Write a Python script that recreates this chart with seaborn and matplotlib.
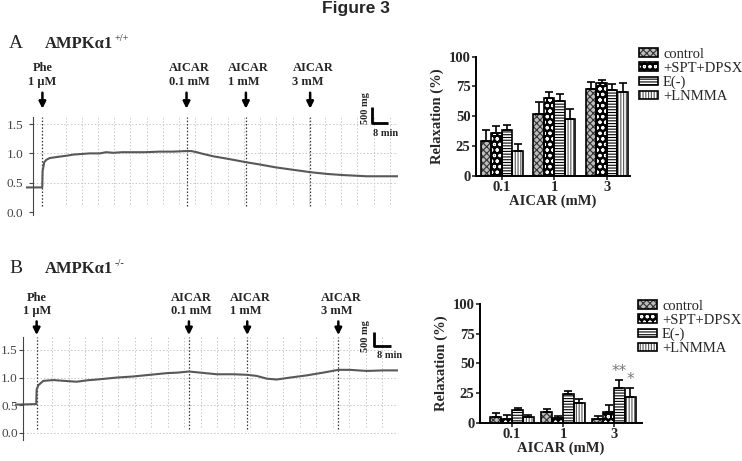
import numpy as np
import pandas as pd
import matplotlib
matplotlib.use('Agg')
import matplotlib.pyplot as plt
import seaborn as sns
from matplotlib.patches import Patch, Rectangle
from matplotlib.lines import Line2D

# isometric tension traces (g), time in min
trace_a_t = [-3.5, 4.5, 4.7, 5.5, 6.5, 8.2, 12, 16.5, 20, 24, 28, 33, 36, 39.5, 44, 49.4, 55,
             62.6, 69, 75.7, 78, 80.7, 84, 88.9, 94, 98.8, 105, 112, 120, 128.4, 136.7,
             144.9, 153.1, 164.6, 172, 180.2]
trace_a_y = [0.42, 0.42, 0.70, 0.85, 0.89, 0.92, 0.94, 0.96, 0.98, 0.99, 1.00, 1.00, 1.02,
             1.01, 1.02, 1.02, 1.02, 1.03, 1.03, 1.04, 1.04, 1.02, 0.99, 0.95, 0.92, 0.89,
             0.85, 0.81, 0.76, 0.72, 0.68, 0.65, 0.63, 0.61, 0.61, 0.61]
trace_b_t = [-4, 6.3, 6.5, 7.3, 9.7, 14.6, 20, 25.9, 31, 37.2, 45.3, 53.4, 61.5, 69.6, 75,
             80.4, 85.8, 93.9, 101.9, 108.7, 113.3, 118.2, 123, 129.5, 137.6, 145.6, 152.9,
             158.6, 166.7, 174.8, 182]
trace_b_y = [0.51, 0.52, 0.78, 0.86, 0.94, 0.955, 0.94, 0.925, 0.95, 0.97, 1.00, 1.02, 1.05,
             1.08, 1.09, 1.11, 1.09, 1.06, 1.06, 1.05, 1.03, 0.98, 0.965, 1.00, 1.04, 1.09,
             1.14, 1.14, 1.12, 1.13, 1.13]

events_a = [4.6, 75.7, 105, 136.7]
events_b = [6.5, 80.4, 108.7, 152.9]
event_labels = ['Phe\n1 \u03bcM', 'AICAR\n0.1 mM', 'AICAR\n1 mM', 'AICAR\n3 mM']

# relaxation (%) bars
doses = ['0.1', '1', '3']
groups = ['control', '+SPT+DPSX', 'E(-)', '+LNMMA']
relax_a = {'control': [29, 52, 73], '+SPT+DPSX': [35.5, 65, 78],
           'E(-)': [38, 63, 72], '+LNMMA': [21, 48, 70]}
err_a = {'control': [9, 10, 5.5], '+SPT+DPSX': [6, 5.5, 2.4],
         'E(-)': [5, 5.3, 5.3], '+LNMMA': [6, 8.4, 7.6]}
relax_b = {'control': [5, 9.3, 2.8], '+SPT+DPSX': [2.8, 3.9, 9],
           'E(-)': [11, 24, 29.5], '+LNMMA': [4.5, 17, 22]}
err_b = {'control': [3, 2, 2.8], '+SPT+DPSX': [3.7, 1.7, 5.6],
         'E(-)': [1, 2.5, 6.5], '+LNMMA': [2, 2.9, 7]}

styles = {'control': ('#bdbdbd', 'xxxxx', '#333333'),
          '+SPT+DPSX': ('black', 'ooo', 'white'),
          'E(-)': ('white', '------', 'black'),
          '+LNMMA': ('white', '||||||', '#555555')}

sns.set_style('white')
plt.rcParams['font.family'] = ['Liberation Serif', 'DejaVu Serif']
plt.rcParams['hatch.linewidth'] = 0.8

W, H = 742, 461
fig = plt.figure(figsize=(W / 100, H / 100), dpi=100)


def fx(x):
    return x / W


def fy(y):
    return 1 - y / H


def trace_panel(rect, t, y, events, ylim, grid_x, grid_bottom, hgrid, arrow_off, text_off, pad):
    ax = fig.add_axes(rect)
    df = pd.DataFrame({'t': t, 'y': y})
    sns.lineplot(data=df, x='t', y='y', ax=ax, color='#585858', lw=1.5)
    ax.set_xlim(t[0], t[-1])
    ax.set_ylim(*ylim)
    for s in ['top', 'right', 'bottom']:
        ax.spines[s].set_visible(False)
    ax.spines['left'].set_position(('data', 0))
    ax.spines['left'].set_color('#444444')
    ax.set_yticks([0, 0.5, 1.0, 1.5])
    ax.set_yticklabels(['0.0', '0.5', '1.0', '1.5'])
    ax.tick_params(axis='y', left=True, length=3, width=0.8, colors='#444444', labelsize=9.5, pad=pad)
    ax.set_xticks([])
    ax.set_xlabel('')
    ax.set_ylabel('')
    ax.vlines(grid_x, grid_bottom, ylim[1], colors='#c8c8c8', lw=0.7, linestyles=(0, (1.5, 2)), zorder=0)
    for h in hgrid:
        ax.plot([0, t[-1]], [h, h], color='#c8c8c8', lw=0.7, ls=(0, (1.5, 2)), zorder=0)
    for e, lab in zip(events, event_labels):
        ax.vlines(e, grid_bottom - 0.03, ylim[1], colors='#333333', lw=0.9, linestyles=(0, (1.2, 1.5)), zorder=1)
        ax.annotate('', xy=(e, 1), xycoords=('data', 'axes fraction'),
                    xytext=(0, arrow_off[1]), textcoords='offset points',
                    arrowprops=dict(arrowstyle='-|>', color='black', lw=1.8, mutation_scale=10,
                                    shrinkA=0, shrinkB=arrow_off[0]),
                    annotation_clip=False)
        ma = 'center' if lab.startswith('Phe') else 'left'
        dx = 0 if lab.startswith('Phe') else 2
        ax.annotate(lab, xy=(e, 1), xycoords=('data', 'axes fraction'),
                    xytext=(dx, text_off), textcoords='offset points',
                    ha='center', va='bottom', multialignment=ma, fontsize=9,
                    fontweight='bold', linespacing=1.15, annotation_clip=False)
    return ax


trace_panel([fx(26), fy(215), fx(398.3) - fx(26), (215 - 117) / H],
            trace_a_t, trace_a_y, events_a, (-0.05, 1.62),
            np.arange(16, 180, 8.0), 0.136, [0.5, 1.0, 1.5], (-6, 17.5), 21, 4)
trace_panel([fx(15), fy(440), fx(398.3) - fx(15), (440 - 336.7) / H],
            trace_b_t, trace_b_y, events_b, (-0.13, 1.74),
            np.arange(14.1, 183, 8.0), 0.1, [0.0, 0.5, 1.0, 1.5], (-1.2, 11), 14, 1)


def bar_panel(rect, vals, errs, xlim, width, stars=False):
    ax = fig.add_axes(rect)
    rows = []
    for g in groups:
        for d, v in zip(doses, vals[g]):
            rows.append({'dose': d, 'group': g, 'value': v})
    df = pd.DataFrame(rows)
    sns.barplot(data=df, x='dose', y='value', hue='group', hue_order=groups, order=doses,
                width=width, errorbar=None, ax=ax, legend=False, dodge=True)
    for cont, g in zip(ax.containers, groups):
        face, hatch, hc = styles[g]
        xs, ys = [], []
        for bar in cont:
            bar.set_facecolor(face)
            bar.set_hatch(hatch)
            bar.set_edgecolor(hc)
            bar.set_linewidth(0)
            ax.add_patch(Rectangle(bar.get_xy(), bar.get_width(), bar.get_height(),
                                   fill=False, edgecolor='black', lw=1.2, zorder=3))
            xs.append(bar.get_x() + bar.get_width() / 2)
            ys.append(bar.get_height())
        e = np.array(errs[g])
        ax.errorbar(xs, ys, yerr=[np.zeros_like(e), e], fmt='none', ecolor='black',
                    elinewidth=1.2, capsize=3.2, capthick=1.2, zorder=4)
        if stars and g in ('E(-)', '+LNMMA'):
            txt = '**' if g == 'E(-)' else '*'
            ax.annotate(txt, xy=(xs[2], ys[2] + e[2]), xytext=(0, 1), textcoords='offset points',
                        ha='center', va='bottom', fontsize=11, color='#777777',
                        family=['DejaVu Sans'])
    ax.set_ylim(0, 100)
    ax.set_xlim(*xlim)
    ax.set_yticks([0, 25, 50, 75, 100])
    sns.despine(ax=ax)
    for s in ['left', 'bottom']:
        ax.spines[s].set_linewidth(1.4)
        ax.spines[s].set_color('black')
    ax.tick_params(axis='both', length=3, width=1.2, direction='out', left=True, bottom=True,
                   labelsize=10.5, pad=1)
    for lab in ax.get_xticklabels() + ax.get_yticklabels():
        lab.set_fontweight('bold')
    ax.set_xlabel('AICAR (mM)', fontsize=10.5, fontweight='bold', labelpad=0)
    ax.set_ylabel('Relaxation (%)', fontsize=10.5, fontweight='bold', labelpad=3)
    return ax


def legend_for(ax, anchor):
    handles = []
    for g in groups:
        face, hatch, hc = styles[g]
        handles.append((Patch(facecolor=face, hatch=hatch, edgecolor=hc, lw=0),
                         Patch(fill=False, edgecolor='black', lw=1.2)))
    ax.legend(handles, groups, loc='upper left', bbox_to_anchor=anchor,
              bbox_transform=fig.transFigure, frameon=False, fontsize=10.5,
              handlelength=1.3, handleheight=0.55, handletextpad=0.35,
              labelspacing=0.06, borderpad=0, borderaxespad=0)


ax_a = bar_panel([fx(476), fy(175.7), fx(630) - fx(476), 119 / H], relax_a, err_a,
                 (-0.49, 2.44), 0.8)
legend_for(ax_a, (fx(639), fy(48)))
ax_b = bar_panel([fx(480), fy(422.7), fx(642) - fx(480), 118.7 / H], relax_b, err_b,
                 (-0.63, 2.55), 0.85, stars=True)
legend_for(ax_b, (fx(638), fy(300)))

# titles and panel labels
fig.text(fx(356), fy(13), 'Figure 3', ha='center', va='baseline', fontsize=12.5,
         fontweight='bold', family=['Liberation Sans', 'DejaVu Sans'])
for letter, base, sup in [('A', 48, '+/+'), ('B', 273, '-/-')]:
    fig.text(fx(9), fy(base), letter, fontsize=14, va='baseline')
    fig.text(fx(45), fy(base), 'AMPK\u03b11', fontsize=12, fontweight='bold', va='baseline')
    fig.text(fx(115), fy(base - 7), sup, fontsize=7.5, va='baseline')

# scale bars
for xv, ytop, ybot, xend, lab_y, min_x, min_y in [(371.7, 106.7, 122.7, 388.3, 108, 386, 133),
                                                   (374.3, 331.7, 346, 390.7, 336, 390, 355)]:
    fig.add_artist(Line2D([fx(xv), fx(xv), fx(xend)], [fy(ytop), fy(ybot), fy(ybot)],
                          color='black', lw=2, solid_capstyle='butt'))
    fig.text(fx(365), fy(lab_y), '500 mg', rotation=90, ha='center', va='center',
             fontsize=7.5, fontweight='bold')
    fig.text(fx(min_x), fy(min_y), '8 min', ha='center', va='center', fontsize=7.5,
             fontweight='bold')

fig.savefig('out.png', dpi=100)
